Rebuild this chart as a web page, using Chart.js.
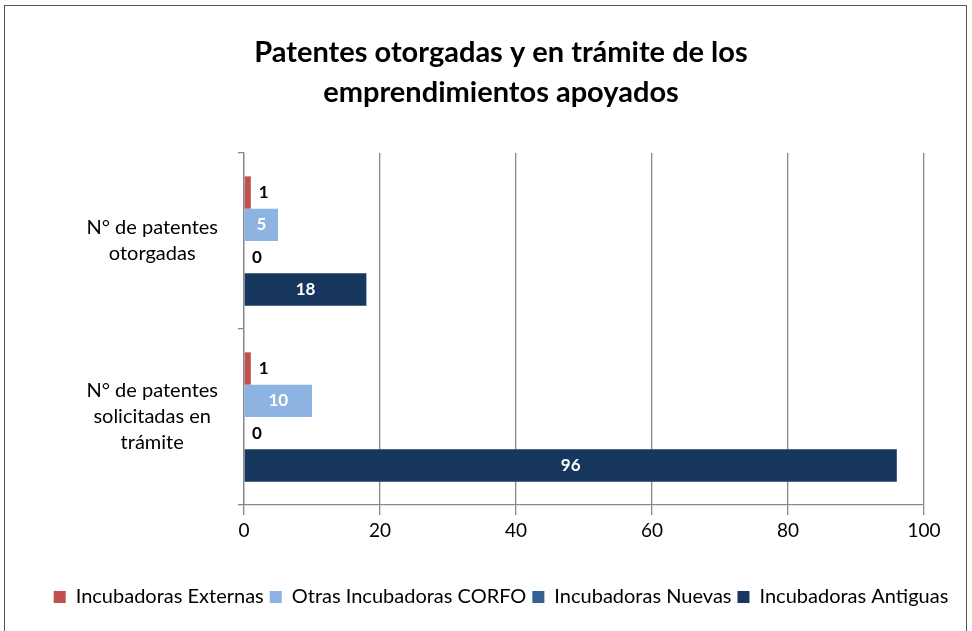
<!DOCTYPE html>
<html>
<head>
<meta charset="utf-8">
<script src="https://cdn.jsdelivr.net/npm/chart.js@4"></script>
<style>
  html, body { margin: 0; padding: 0; background: #fff; }
  #frame { position: absolute; left: 4px; top: 5px; width: 963px; height: 660px; border: 1.5px solid #555; box-sizing: border-box; }
  #wrap { position: absolute; left: 0; top: 0; width: 972px; height: 631px; }
</style>
</head>
<body>
<div id="frame"></div>
<div id="wrap"><canvas id="chart" width="972" height="631"></canvas></div>
<script>
// categorías (eje vertical)
const categories = [
    ["N° de patentes", "otorgadas"],
    ["N° de patentes", "solicitadas en", "trámite"]
];
// series
const seriesNames = ["Incubadoras Externas", "Otras Incubadoras CORFO", "Incubadoras Nuevas", "Incubadoras Antiguas"];
const externas = [1, 1];
const otrasCorfo = [5, 10];
const nuevas = [0, 0];
const antiguas = [18, 96];
const xTicks = [0, 20, 40, 60, 80, 100];

const colors = ["#C0504D", "#8DB3E2", "#376092", "#17375E"];
// dónde va la etiqueta de cada serie: dentro (blanca) o fuera (negra)
const labelInside = [false, true, false, true];

const FONT = "Lato, 'Open Sans', sans-serif";

// Plugin simple para etiquetas de datos
const barLabels = {
    id: "barLabels",
    afterDatasetsDraw(chart) {
        const ctx = chart.ctx;
        ctx.save();
        ctx.font = "bold 17px " + FONT;
        ctx.textBaseline = "middle";
        chart.data.datasets.forEach((ds, i) => {
            const meta = chart.getDatasetMeta(i);
            meta.data.forEach((bar, j) => {
                const value = ds.data[j];
                if (labelInside[i]) {
                    ctx.fillStyle = "#fff";
                    ctx.textAlign = "center";
                    ctx.fillText(value, (bar.x + bar.base) / 2, bar.y);
                } else {
                    ctx.fillStyle = "#000";
                    ctx.textAlign = "left";
                    ctx.fillText(value, bar.x + 8, bar.y);
                }
            });
        });
        ctx.restore();
    }
};

const ctx = document.getElementById("chart").getContext("2d");
const datasets = [externas, otrasCorfo, nuevas, antiguas].map((data, i) => ({
    label: seriesNames[i],
    data: data,
    backgroundColor: colors[i],
    borderWidth: 0,
    categoryPercentage: 0.735,
    barPercentage: 1.0
}));

new Chart(ctx, {
    type: "bar",
    data: { labels: categories, datasets: datasets },
    options: {
        indexAxis: "y",
        responsive: false,
        animation: false,
        layout: { padding: { top: 5, right: 0, left: 30, bottom: 14 } },
        plugins: {
            title: {
                display: true,
                text: ["Patentes otorgadas y en trámite de los", "emprendimientos apoyados"],
                color: "#000",
                font: { family: FONT, size: 29, weight: "bold", lineHeight: 1.38 },
                padding: { top: 28, bottom: 40 }
            },
            legend: {
                position: "bottom",
                labels: {
                    color: "#000",
                    font: { family: FONT, size: 20 },
                    boxWidth: 12,
                    boxHeight: 12,
                    padding: 6
                }
            },
            tooltip: { enabled: false }
        },
        scales: {
            x: {
                min: 0,
                max: 100,
                afterBuildTicks: scale => { scale.ticks = xTicks.map(v => ({ value: v })); },
                afterFit: scale => { scale.height = 76; },
                grid: { color: "#888", lineWidth: 1.3, tickLength: 10, drawTicks: true },
                border: { color: "#888", width: 1.3 },
                ticks: { color: "#000", font: { family: FONT, size: 19 }, padding: 4 }
            },
            y: {
                afterFit: scale => { scale.width = 214; },
                grid: { drawOnChartArea: false, color: "#888", lineWidth: 1.3, tickLength: 6, offset: true },
                border: { color: "#888", width: 1.3 },
                ticks: { color: "#000", font: { family: FONT, size: 20, lineHeight: 1.3 }, crossAlign: "center", padding: 20 }
            },
            // eje vacío a la derecha, sólo reserva el margen
            yRight: {
                type: "category",
                position: "right",
                afterFit: scale => { scale.width = 48; },
                grid: { display: false },
                border: { display: false },
                ticks: { display: false }
            }
        }
    },
    plugins: [barLabels]
});
</script>
</body>
</html>
